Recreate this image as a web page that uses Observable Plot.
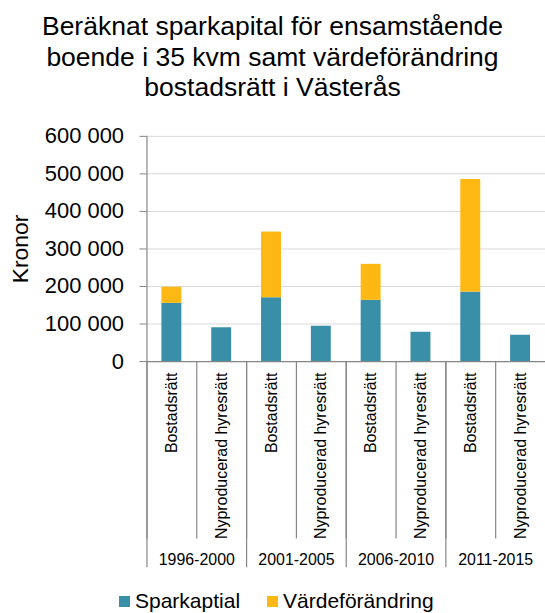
<!DOCTYPE html>
<html>
<head>
<meta charset="utf-8">
<script src="https://cdn.jsdelivr.net/npm/d3@7"></script>
<script src="https://cdn.jsdelivr.net/npm/@observablehq/plot@0.6"></script>
<style>
  html, body { margin: 0; padding: 0; background: #fff; overflow: hidden; }
  body { width: 545px; height: 613px; position: relative; font-family: "Liberation Sans", Arial, sans-serif; color: #000; }
  #title { position: absolute; left: 0; top: 11px; width: 545px; text-align: center; font-size: 26.5px; line-height: 30.5px; }
  #chart { position: absolute; left: 0; top: 100px; }
  #legend { position: absolute; left: 119px; top: 589px; display: flex; align-items: center; font-size: 21px; line-height: 24px; }
  #legend .sw { width: 11px; height: 11px; display: inline-block; margin-right: 5px; }
  #legend .item { display: flex; align-items: center; margin-right: 27px; }
</style>
</head>
<body>
<div id="title">Beräknat sparkapital för ensamstående<br>boende i 35 kvm samt värdeförändring<br>bostadsrätt i Västerås</div>
<div id="chart"></div>
<div id="legend"></div>
<script>
// ---- data ----
const periods = ["1996-2000", "2001-2005", "2006-2010", "2011-2015"];
const types = ["Bostadsrätt", "Nyproducerad hyresrätt"];
const seriesNames = ["Sparkaptial", "Värdeförändring"];
const seriesColors = ["#3A8FA8", "#FDB813"];
// order: period x type
const sparkapital = [155000, 90000, 170000, 94000, 163000, 78000, 185000, 70000];
const vardeforandring = [43000, 0, 175000, 0, 96000, 0, 300000, 0];
const yTicks = [0, 100000, 200000, 300000, 400000, 500000, 600000];
const yLabel = "Kronor";

// ---- build table ----
const keyOf = (p, t) => p + "|" + t;
const keys = [];
periods.forEach(p => types.forEach(t => keys.push(keyOf(p, t))));
const rows = [];
keys.forEach((k, i) => {
  rows.push({key: k, series: seriesNames[0], value: sparkapital[i]});
  rows.push({key: k, series: seriesNames[1], value: vardeforandring[i]});
});

const W = 547, H = 480, mL = 147, mR = 0, mT = 36, mB = 218;
const step = (W - mL - mR) / keys.length;
const axisGray = "#868686";
const fmt = d => d3.format(",")(d).replace(/,/g, " ");

const chart = Plot.plot({
  width: W,
  height: H,
  marginLeft: mL,
  marginRight: mR,
  marginTop: mT,
  marginBottom: mB,
  style: {fontFamily: '"Liberation Sans", Arial, sans-serif', color: "#000", background: "#fff", overflow: "visible"},
  x: {type: "band", domain: keys, paddingInner: 0.6, paddingOuter: 0.3, axis: null, label: null},
  y: {domain: [0, 600000], axis: null, label: null},
  color: {domain: seriesNames, range: seriesColors},
  marks: [
    Plot.gridY(yTicks, {stroke: "#d9d9d9", strokeOpacity: 1}),
    Plot.barY(rows, {x: "key", y: "value", fill: "series", order: seriesNames}),
    Plot.ruleY([0], {stroke: axisGray, strokeWidth: 1.2}),
    Plot.ruleX([keys[0]], {dx: -step / 2, stroke: axisGray, strokeWidth: 1.2}),
    Plot.axisY({ticks: yTicks, tickFormat: fmt, tickSize: 7, tickPadding: 16, fontSize: 22,
      stroke: axisGray, fill: "#000", label: null}),
    // y axis title
    Plot.text([yLabel], {frameAnchor: "left", rotate: -90, dx: -127, text: d => d,
      fontSize: 23, fill: "#000", textAnchor: "middle", lineAnchor: "middle"}),
    // category dividers
    Plot.axisX({ticks: keys, tickSize: 178, dx: -step / 2, tickFormat: () => "", stroke: axisGray, strokeWidth: 1.2, label: null}),
    // group dividers
    Plot.axisX({ticks: periods.map(p => keyOf(p, types[0])), tickSize: 207, dx: -step / 2, tickFormat: () => "", stroke: axisGray, strokeWidth: 1.2, label: null}),
    // category labels
    Plot.axisX({ticks: keys, tickSize: 0, tickPadding: 11, tickRotate: -90, fontSize: 16, fill: "#000",
      tickFormat: d => d.split("|")[1], label: null}),
    // period labels
    Plot.text(periods, {x: p => keyOf(p, types[0]), y: () => 0, dx: step / 2, dy: 204, text: d => d,
      fontSize: 16, fill: "#000", lineAnchor: "bottom", textAnchor: "middle"})
  ]
});
document.getElementById("chart").appendChild(chart);

const legend = document.getElementById("legend");
seriesNames.forEach((s, i) => {
  const item = document.createElement("span");
  item.className = "item";
  const sw = document.createElement("span");
  sw.className = "sw";
  sw.style.background = seriesColors[i];
  const tx = document.createElement("span");
  tx.textContent = s;
  item.appendChild(sw);
  item.appendChild(tx);
  legend.appendChild(item);
});
</script>
</body>
</html>
